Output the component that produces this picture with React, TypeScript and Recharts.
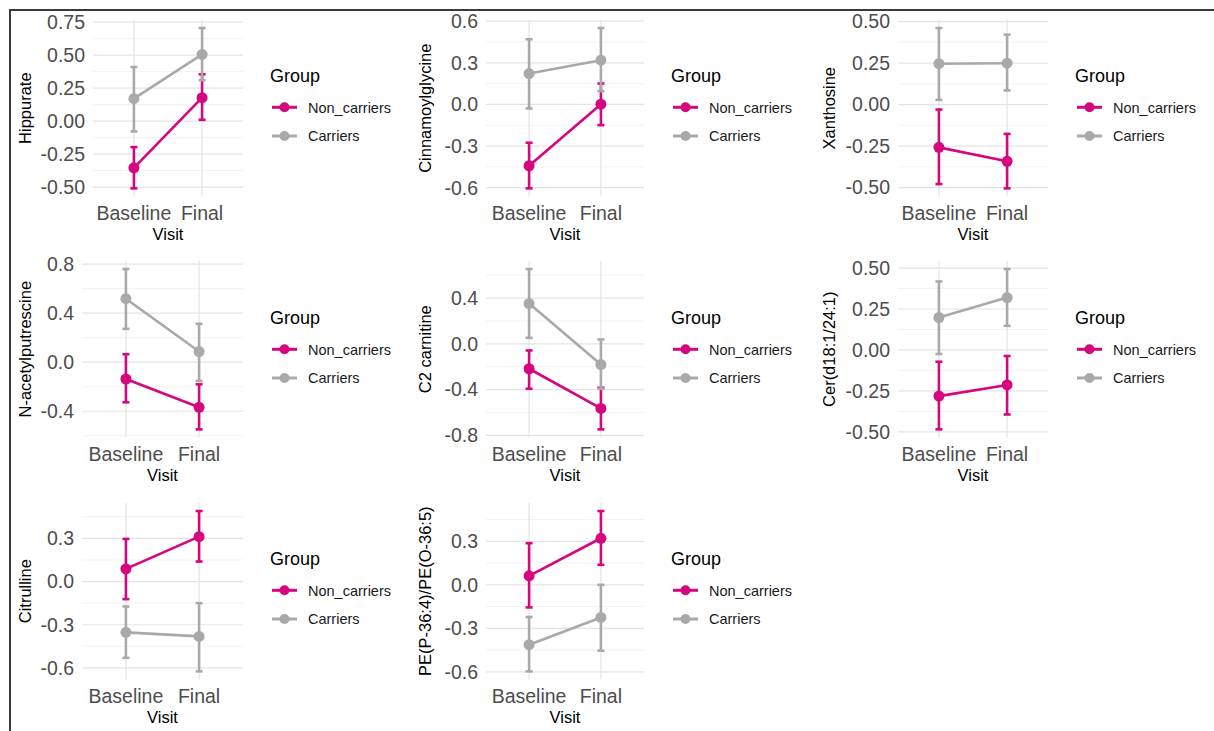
import React from 'react';
import { LineChart, Line, XAxis, YAxis, CartesianGrid, ErrorBar, Legend } from 'recharts';

// ---------- data ----------
const VISITS = ['Baseline', 'Final'];
const GROUPS = ['Non_carriers', 'Carriers'];
const GROUP_COLORS = ['#D6067F', '#A9A9A9'];
const METABOLITES = [
  'Hippurate',
  'Cinnamoylglycine',
  'Xanthosine',
  'N-acetylputrescine',
  'C2 carnitine',
  'Cer(d18:1/24:1)',
  'Citrulline',
  'PE(P-36:4)/PE(O-36:5)',
];

// [Baseline, Final] per metabolite
const NON_CARRIERS_MEAN = [
  [-0.354, 0.178], [-0.442, 0.002], [-0.258, -0.342], [-0.137, -0.368],
  [-0.218, -0.565], [-0.282, -0.214], [0.088, 0.312], [0.062, 0.321],
];
const NON_CARRIERS_LOW = [
  [-0.51, 0.01], [-0.605, -0.149], [-0.479, -0.505], [-0.327, -0.548],
  [-0.393, -0.748], [-0.485, -0.394], [-0.122, 0.139], [-0.156, 0.138],
];
const NON_CARRIERS_HIGH = [
  [-0.197, 0.355], [-0.276, 0.151], [-0.03, -0.177], [0.065, -0.18],
  [-0.058, -0.384], [-0.072, -0.037], [0.296, 0.49], [0.287, 0.509],
];
const CARRIERS_MEAN = [
  [0.17, 0.506], [0.223, 0.319], [0.246, 0.249], [0.518, 0.087],
  [0.352, -0.181], [0.198, 0.32], [-0.353, -0.381], [-0.413, -0.225],
];
const CARRIERS_LOW = [
  [-0.078, 0.31], [-0.029, 0.096], [0.028, 0.085], [0.272, -0.153],
  [0.052, -0.393], [-0.025, 0.147], [-0.53, -0.624], [-0.597, -0.454],
];
const CARRIERS_HIGH = [
  [0.41, 0.706], [0.47, 0.551], [0.461, 0.421], [0.76, 0.313],
  [0.654, 0.038], [0.418, 0.494], [-0.173, -0.15], [-0.222, 0.0],
];
const Y_TICKS = [
  [-0.5, -0.25, 0, 0.25, 0.5, 0.75],
  [-0.6, -0.3, 0, 0.3, 0.6],
  [-0.5, -0.25, 0, 0.25, 0.5],
  [-0.4, 0, 0.4, 0.8],
  [-0.8, -0.4, 0, 0.4],
  [-0.5, -0.25, 0, 0.25, 0.5],
  [-0.6, -0.3, 0, 0.3],
  [-0.6, -0.3, 0, 0.3],
];
const Y_DECIMALS = [2, 1, 2, 1, 1, 2, 1, 1];

// ---------- layout ----------
const FONT = '"Liberation Sans", Arial, Helvetica, sans-serif';
const PANEL_COL = [0, 1, 2, 0, 1, 2, 0, 1];
const PANEL_ROW = [0, 0, 0, 1, 1, 1, 2, 2];
const PLOT_LEFT = [93, 486, 898, 82, 486, 898, 82, 486];
const COL_PLOT_RIGHT = [243, 644, 1048];
const COL_CHART_LEFT = [12, 410, 812];
const COL_CHART_RIGHT = [405, 808, 1214];
const COL_TITLE_X = [31, 431, 835];
const ROW_PLOT_TOP = [19.5, 261.2, 502.9];
const PLOT_H = 176.4;
const TOP_MARGIN = 18;
const BOTTOM_MARGIN = 8;
const X_AXIS_H = 44;

function LegendBox() {
  const rows = [47.3, 76];
  return (
    <svg width={150} height={100} style={{ display: 'block', overflow: 'visible' }}>
      <text x={2} y={22} fontSize={18} fontFamily={FONT} fill="#000">Group</text>
      {GROUPS.map((g, k) => (
        <g key={g}>
          <line x1={4} x2={29} y1={rows[k]} y2={rows[k]} stroke={GROUP_COLORS[k]} strokeWidth={3} />
          <circle cx={16.5} cy={rows[k]} r={5} fill={GROUP_COLORS[k]} />
          <text x={40} y={rows[k] + 5.2} fontSize={14.5} fontFamily={FONT} fill="#1a1a1a">{g}</text>
        </g>
      ))}
    </svg>
  );
}

function Panel({ i }: { i: number }) {
  const col = PANEL_COL[i];
  const row = PANEL_ROW[i];
  const chartLeft = COL_CHART_LEFT[col];
  const chartTop = ROW_PLOT_TOP[row] - TOP_MARGIN;
  const width = COL_CHART_RIGHT[col] - chartLeft;
  const height = TOP_MARGIN + PLOT_H + X_AXIS_H + BOTTOM_MARGIN;
  const plotLeft = PLOT_LEFT[i];
  const plotRight = COL_PLOT_RIGHT[col];

  const data = VISITS.map((v, k) => ({
    x: k + 1,
    visit: v,
    non: NON_CARRIERS_MEAN[i][k],
    nonErr: [NON_CARRIERS_MEAN[i][k] - NON_CARRIERS_LOW[i][k], NON_CARRIERS_HIGH[i][k] - NON_CARRIERS_MEAN[i][k]],
    car: CARRIERS_MEAN[i][k],
    carErr: [CARRIERS_MEAN[i][k] - CARRIERS_LOW[i][k], CARRIERS_HIGH[i][k] - CARRIERS_MEAN[i][k]],
  }));

  const lo = Math.min(...NON_CARRIERS_LOW[i], ...CARRIERS_LOW[i]);
  const hi = Math.max(...NON_CARRIERS_HIGH[i], ...CARRIERS_HIGH[i]);
  const pad = (hi - lo) * 0.05;
  const domain: [number, number] = [lo - pad, hi + pad];

  const ticks = Y_TICKS[i];
  const step = ticks[1] - ticks[0];
  const minor: number[] = [];
  for (let k = -1; k < ticks.length; k++) {
    const m = ticks[0] + (k + 0.5) * step;
    if (m >= domain[0] && m <= domain[1]) minor.push(m);
  }

  const titleX = COL_TITLE_X[col] - chartLeft;
  const titleY = TOP_MARGIN + PLOT_H / 2;
  const visitX = (plotLeft + plotRight) / 2 - chartLeft;
  const visitY = TOP_MARGIN + PLOT_H + X_AXIS_H;

  const series = [
    { key: 'non', err: 'nonErr', name: GROUPS[0], color: GROUP_COLORS[0] },
    { key: 'car', err: 'carErr', name: GROUPS[1], color: GROUP_COLORS[1] },
  ];

  return (
    <div style={{ position: 'absolute', left: chartLeft, top: chartTop }}>
      <LineChart
        width={width}
        height={height}
        data={data}
        margin={{ top: TOP_MARGIN, right: COL_CHART_RIGHT[col] - plotRight, bottom: BOTTOM_MARGIN, left: 0 }}
      >
        <CartesianGrid horizontalValues={minor} vertical={false} stroke="#F1F1F1" strokeWidth={0.9} />
        <CartesianGrid syncWithTicks stroke="#E4E4E4" strokeWidth={1.2} />
        <XAxis
          dataKey="x"
          type="number"
          domain={[0.4, 2.6]}
          ticks={[1, 2]}
          interval={0}
          allowDataOverflow
          tickFormatter={(v: number) => VISITS[v - 1]}
          axisLine={false}
          tickLine={false}
          tickSize={0}
          tickMargin={10}
          height={X_AXIS_H}
          tick={{ fontSize: 19.5, fill: '#4D4D4D', fontFamily: FONT }}
          label={() => (
            <text x={visitX} y={visitY} textAnchor="middle" fontSize={16.5} fontFamily={FONT} fill="#000">Visit</text>
          )}
        />
        <YAxis
          type="number"
          domain={domain}
          ticks={ticks}
          interval={0}
          allowDataOverflow
          tickFormatter={(v: number) => v.toFixed(Y_DECIMALS[i])}
          axisLine={false}
          tickLine={false}
          tickSize={0}
          tickMargin={8}
          width={plotLeft - chartLeft}
          tick={{ fontSize: 19.5, fill: '#4D4D4D', fontFamily: FONT }}
          label={() => (
            <text
              x={titleX}
              y={titleY}
              transform={`rotate(-90 ${titleX} ${titleY})`}
              textAnchor="middle"
              fontSize={16.5}
              fontFamily={FONT}
              fill="#000"
            >
              {METABOLITES[i]}
            </text>
          )}
        />
        {series.map((s) => (
          <Line
            key={s.key}
            type="linear"
            dataKey={s.key}
            name={s.name}
            stroke={s.color}
            strokeWidth={2.6}
            dot={{ r: 5.5, fill: s.color, stroke: s.color, strokeWidth: 0 }}
            activeDot={false}
            isAnimationActive={false}
          >
            <ErrorBar dataKey={s.err} direction="y" width={3.5} strokeWidth={2.6} stroke={s.color} />
          </Line>
        ))}
        <Legend
          layout="horizontal"
          verticalAlign="middle"
          align="center"
          content={() => <LegendBox />}
          wrapperStyle={{
            position: 'absolute',
            left: plotRight + 25 - chartLeft,
            top: ROW_PLOT_TOP[row] + 40.5 - chartTop,
            width: 150,
            height: 100,
          }}
        />
      </LineChart>
    </div>
  );
}

export default function App() {
  return (
    <div
      style={{
        position: 'absolute',
        left: 0,
        top: 0,
        width: 1214,
        height: 731,
        background: '#fff',
        overflow: 'hidden',
      }}
    >
      <div style={{ position: 'absolute', left: 9, top: 9, width: 1205, height: 2, background: '#3a3a3a' }} />
      <div style={{ position: 'absolute', left: 9, top: 9, width: 2, height: 722, background: '#3a3a3a' }} />
      {METABOLITES.map((_, i) => (
        <Panel key={i} i={i} />
      ))}
    </div>
  );
}
